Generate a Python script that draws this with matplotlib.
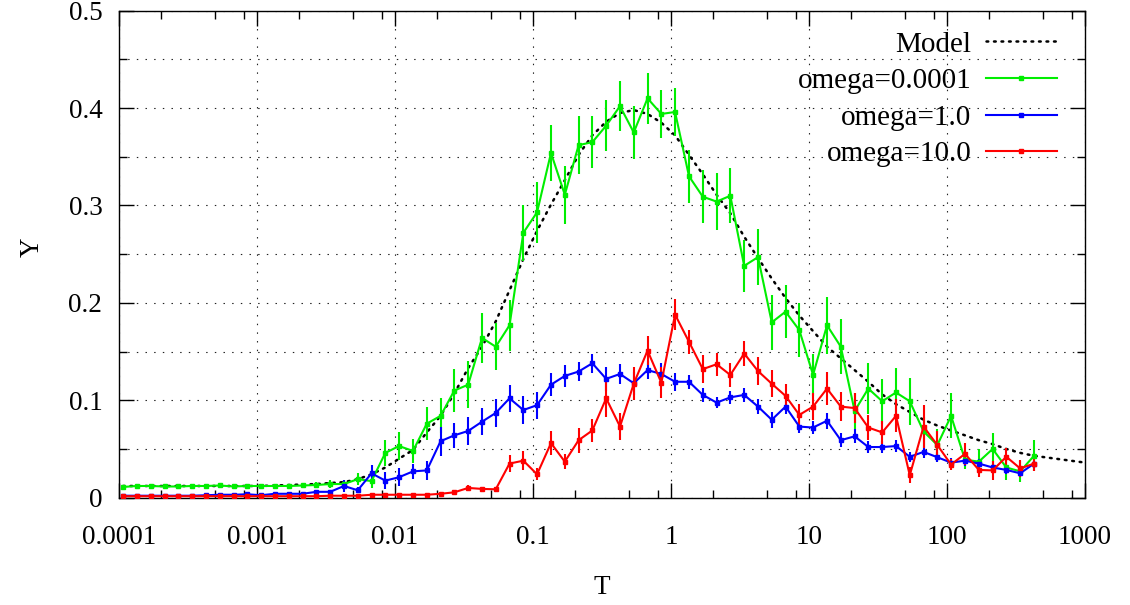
import matplotlib
matplotlib.use("Agg")
import matplotlib.pyplot as plt
from matplotlib.lines import Line2D
from matplotlib.ticker import FixedLocator, FuncFormatter, NullFormatter

plt.rcParams['font.family'] = ['Liberation Serif', 'DejaVu Serif']
plt.rcParams['font.size'] = 19.5

# temperatures of the runs (same grid for every omega)
temps = [1.07e-4, 1.35e-4, 1.70e-4, 2.14e-4, 2.69e-4, 3.39e-4, 4.27e-4, 5.37e-4, 6.76e-4, 8.51e-4,
         1.07e-3, 1.35e-3, 1.70e-3, 2.14e-3, 2.69e-3, 3.39e-3, 4.27e-3, 5.37e-3, 6.76e-3, 8.51e-3,
         1.07e-2, 1.35e-2, 1.70e-2, 2.14e-2, 2.69e-2, 3.39e-2, 4.27e-2, 5.37e-2, 6.76e-2, 8.51e-2,
         0.107, 0.135, 0.170, 0.214, 0.269, 0.339, 0.427, 0.537, 0.676, 0.851,
         1.07, 1.35, 1.70, 2.14, 2.69, 3.39, 4.27, 5.37, 6.76, 8.51,
         10.7, 13.5, 17.0, 21.4, 26.9, 33.9, 42.7, 53.7, 67.6, 85.1,
         107, 135, 170, 214, 269, 339, 427]

# omega = 0.0001
g_low = [0.011, 0.012, 0.012, 0.0115, 0.0115, 0.012, 0.012, 0.0125, 0.0115, 0.012,
         0.012, 0.012, 0.012, 0.0125, 0.013, 0.014, 0.014, 0.019, 0.017, 0.046,
         0.053, 0.048, 0.076, 0.084, 0.110, 0.116, 0.164, 0.155, 0.177, 0.272,
         0.293, 0.354, 0.311, 0.362, 0.365, 0.382, 0.402, 0.375, 0.410, 0.394,
         0.396, 0.330, 0.309, 0.304, 0.310, 0.238, 0.247, 0.180, 0.191, 0.172,
         0.126, 0.177, 0.155, 0.089, 0.112, 0.099, 0.108, 0.099, 0.068, 0.054,
         0.084, 0.039, 0.037, 0.050, 0.031, 0.027, 0.043]
e_low = [0.002, 0.002, 0.002, 0.002, 0.002, 0.002, 0.002, 0.002, 0.002, 0.002,
         0.002, 0.002, 0.002, 0.002, 0.003, 0.004, 0.004, 0.006, 0.007, 0.013,
         0.014, 0.012, 0.017, 0.018, 0.022, 0.024, 0.026, 0.024, 0.026, 0.029,
         0.031, 0.029, 0.030, 0.030, 0.027, 0.026, 0.026, 0.027, 0.026, 0.025,
         0.025, 0.027, 0.027, 0.029, 0.028, 0.027, 0.029, 0.028, 0.027, 0.028,
         0.022, 0.029, 0.028, 0.018, 0.026, 0.023, 0.025, 0.024, 0.015, 0.017,
         0.023, 0.010, 0.013, 0.016, 0.013, 0.011, 0.016]

# omega = 1.0
g_mid = [0.002, 0.002, 0.002, 0.002, 0.002, 0.002, 0.0025, 0.003, 0.003, 0.0035,
         0.0025, 0.004, 0.004, 0.004, 0.006, 0.006, 0.012, 0.0076, 0.025, 0.0175,
         0.021, 0.027, 0.028, 0.058, 0.064, 0.0685, 0.078, 0.087, 0.102, 0.090,
         0.095, 0.116, 0.125, 0.1295, 0.138, 0.122, 0.127, 0.1175, 0.131, 0.127,
         0.119, 0.119, 0.1055, 0.0976, 0.103, 0.1055, 0.0935, 0.080, 0.0935, 0.073,
         0.072, 0.079, 0.059, 0.063, 0.052, 0.052, 0.053, 0.042, 0.047, 0.0415,
         0.036, 0.038, 0.035, 0.031, 0.0285, 0.025, 0.035]
e_mid = [0.001, 0.001, 0.001, 0.001, 0.001, 0.001, 0.001, 0.001, 0.001, 0.001,
         0.001, 0.001, 0.001, 0.001, 0.002, 0.002, 0.006, 0.003, 0.0085, 0.009,
         0.009, 0.008, 0.010, 0.015, 0.013, 0.014, 0.014, 0.014, 0.014, 0.014,
         0.014, 0.012, 0.011, 0.0095, 0.010, 0.012, 0.010, 0.012, 0.009, 0.011,
         0.0095, 0.007, 0.007, 0.006, 0.007, 0.007, 0.008, 0.008, 0.008, 0.007,
         0.007, 0.008, 0.007, 0.007, 0.006, 0.006, 0.006, 0.005, 0.006, 0.005,
         0.005, 0.005, 0.005, 0.004, 0.004, 0.004, 0.003]

# omega = 10.0
g_high = [0.0015, 0.0015, 0.0015, 0.0015, 0.0015, 0.0015, 0.0015, 0.0015, 0.0015, 0.0015,
          0.0015, 0.0015, 0.0015, 0.0015, 0.0015, 0.002, 0.002, 0.002, 0.003, 0.003,
          0.003, 0.003, 0.003, 0.004, 0.0055, 0.010, 0.009, 0.0086, 0.035, 0.038,
          0.024, 0.056, 0.037, 0.059, 0.069, 0.102, 0.073, 0.117, 0.151, 0.118,
          0.188, 0.160, 0.132, 0.137, 0.126, 0.148, 0.130, 0.117, 0.1045, 0.085,
          0.0935, 0.112, 0.0935, 0.092, 0.072, 0.067, 0.084, 0.023, 0.073, 0.054,
          0.034, 0.045, 0.0285, 0.028, 0.042, 0.030, 0.035]
e_high = [0.001, 0.001, 0.001, 0.001, 0.001, 0.001, 0.001, 0.001, 0.001, 0.001,
          0.001, 0.001, 0.001, 0.001, 0.001, 0.001, 0.001, 0.001, 0.001, 0.001,
          0.001, 0.001, 0.001, 0.001, 0.002, 0.003, 0.002, 0.002, 0.009, 0.010,
          0.006, 0.012, 0.008, 0.013, 0.012, 0.019, 0.014, 0.017, 0.015, 0.016,
          0.016, 0.012, 0.014, 0.012, 0.012, 0.013, 0.014, 0.014, 0.012, 0.011,
          0.014, 0.017, 0.015, 0.015, 0.013, 0.012, 0.017, 0.008, 0.022, 0.014,
          0.006, 0.011, 0.007, 0.0095, 0.0085, 0.0085, 0.008]

# model curve, sampled on the same grid and continued to T = 1000
model_t = temps + [1000]
model_g = [0.012, 0.012, 0.012, 0.012, 0.012, 0.012, 0.012, 0.012, 0.012, 0.012,
           0.012, 0.0125, 0.013, 0.0135, 0.014, 0.015, 0.016, 0.019, 0.024, 0.031,
           0.040, 0.049, 0.067, 0.084, 0.107, 0.133, 0.155, 0.181, 0.213, 0.245,
           0.274, 0.301, 0.326, 0.352, 0.372, 0.386, 0.395, 0.398, 0.394, 0.385,
           0.372, 0.352, 0.332, 0.311, 0.292, 0.268, 0.246, 0.225, 0.205, 0.187,
           0.171, 0.155, 0.143, 0.131, 0.119, 0.106, 0.096, 0.088, 0.080, 0.074,
           0.069, 0.064, 0.059, 0.055, 0.050, 0.046, 0.043, 0.036]

labels = ['Model', 'omega=0.0001', 'omega=1.0', 'omega=10.0']
colors = ['#00ee00', '#0000ff', '#ff0000']

x_major = [1e-4, 1e-3, 1e-2, 1e-1, 1, 10, 100, 1000]
x_minor = [m * d for d in x_major[:-1] for m in (2, 5, 8)]

fig = plt.figure(figsize=(11.3, 6.05), dpi=100)
ax = fig.add_axes([0.1053, 0.1774, 0.8549, 0.8049])

ax.plot(model_t, model_g, color='black', lw=1.8, linestyle=(0, (0.7, 2.3)),
        dash_capstyle='round', zorder=2)

series = [(g_low, e_low), (g_mid, e_mid), (g_high, e_high)]
for (vals, errs), c in zip(series, colors):
    ax.errorbar(temps, vals, yerr=errs, color=c, lw=1.5, elinewidth=1.5,
                capsize=0, marker='s', ms=2.2, zorder=3)

ax.set_xscale('log')
ax.set_xlim(1e-4, 1e3)
ax.set_ylim(0, 0.5)

ax.xaxis.set_major_locator(FixedLocator(x_major))
ax.xaxis.set_minor_locator(FixedLocator(x_minor))
ax.xaxis.set_major_formatter(FuncFormatter(lambda v, p: '%g' % v))
ax.xaxis.set_minor_formatter(NullFormatter())
ax.yaxis.set_major_locator(FixedLocator([0, 0.1, 0.2, 0.3, 0.4, 0.5]))
ax.yaxis.set_minor_locator(FixedLocator([0.05, 0.15, 0.25, 0.35, 0.45]))
ax.yaxis.set_major_formatter(FuncFormatter(lambda v, p: '%g' % v))

ax.tick_params(which='both', direction='in', top=True, right=True, width=1)
ax.tick_params(which='major', length=10.5)
ax.tick_params(which='minor', length=6)
ax.tick_params(axis='x', which='major', pad=20)
ax.tick_params(axis='y', which='major', pad=12)

# dotted grid: decades on x, every 0.05 on y
grid_style = dict(color='#222222', lw=0.8, linestyle=(0, (1.3, 6.5)))
ax.grid(True, axis='x', which='major', **grid_style)
ax.grid(True, axis='y', which='both', **grid_style)
ax.set_axisbelow(True)

for sp in ax.spines.values():
    sp.set_linewidth(1.0)
    sp.set_color('black')

ax.set_xlabel('T')
ax.set_ylabel('Y')
ax.xaxis.set_label_coords(0.5, -0.158)
ax.yaxis.set_label_coords(-0.077, 0.515)

handles = [Line2D([], [], color='black', lw=1.8, linestyle=(0, (0.7, 2.3)), dash_capstyle='round')]
for c in colors:
    handles.append(Line2D([], [], color=c, lw=1.5, marker='s', ms=2.2))
ax.legend(handles, labels, loc='upper right', bbox_to_anchor=(0.971, 0.958),
          frameon=False, markerfirst=False, fontsize=21, handlelength=2.45,
          handletextpad=0.48, labelspacing=0.35, borderpad=0, borderaxespad=0)

fig.savefig('out.png', dpi=100)
